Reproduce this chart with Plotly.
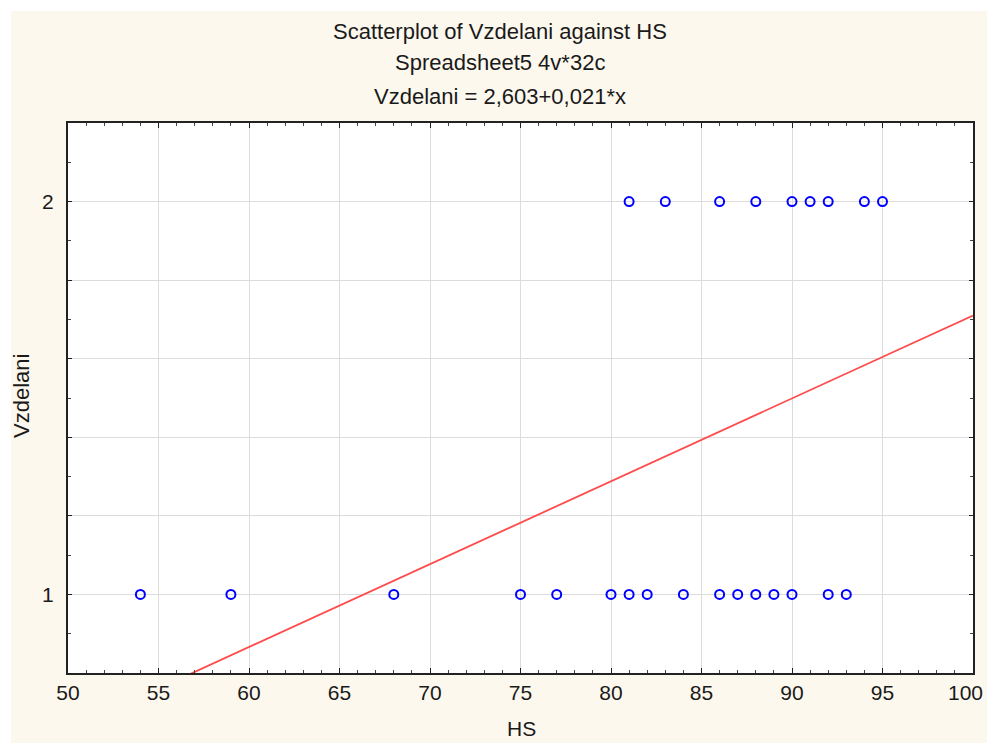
import plotly.graph_objects as go

# Data
hs_level2 = [81, 83, 86, 88, 90, 91, 92, 94, 95]
vz_level2 = [2] * len(hs_level2)
hs_level1 = [54, 59, 68, 75, 77, 80, 81, 82, 84, 86, 87, 88, 89, 90, 92, 93]
vz_level1 = [1] * len(hs_level1)

hs_all = hs_level1 + hs_level2
vz_all = vz_level1 + vz_level2

# Regression line as drawn
line_intercept = -0.40
line_slope = 0.0211
line_x = [50, 100]
line_y = [line_intercept + line_slope * x for x in line_x]

title_lines = ["Scatterplot of Vzdelani against HS", "Spreadsheet5 4v*32c", "Vzdelani = 2,603+0,021*x"]

x_range = [50, 100]
y_range = [0.8, 2.2]
y_grid_vals = [0.8, 1.0, 1.2, 1.4, 1.6, 1.8, 2.0, 2.2]
y_grid_text = ["", "1", "", "", "", "", "2", ""]

FONT = "Liberation Sans, Arial, sans-serif"
TXT = "#1a1a1a"

fig = go.Figure()
fig.add_trace(go.Scatter(
    x=line_x, y=line_y, mode="lines",
    line=dict(color="#ff4a4a", width=1.8), hoverinfo="skip", showlegend=False,
))
fig.add_trace(go.Scatter(
    x=hs_all, y=vz_all, mode="markers",
    marker=dict(symbol="circle-open", size=9, color="#0000ff", line=dict(width=2, color="#0000ff")),
    showlegend=False,
))

OFF = 8  # page body margin
W, H = 995 - 2 * OFF, 743 - OFF
L, T, B = 68 - OFF, 123 - OFF, 70
R = W - L - 905
pw, ph = W - L - R, H - T - B

def px_x(p):  # page pixel -> paper x
    return (p - OFF - L) / pw

def px_y(p):  # page pixel -> paper y
    return (H - B - (p - OFF)) / ph

shapes = [
    dict(type="rect", xref="paper", yref="paper", layer="below",
         x0=px_x(0), x1=px_x(1000), y0=px_y(11), y1=px_y(0),
         fillcolor="white", line=dict(width=0)),
    dict(type="rect", xref="paper", yref="paper", layer="below",
         x0=px_x(0), x1=px_x(11), y0=px_y(750), y1=px_y(0),
         fillcolor="white", line=dict(width=0)),
]

annotations = []
for t, py in zip(title_lines, [31, 62, 96]):
    annotations.append(dict(text=t, xref="paper", yref="paper", x=px_x(500),
                            y=px_y(py), showarrow=False, xanchor="center", yanchor="middle",
                            font=dict(family=FONT, size=22, color=TXT)))
annotations.append(dict(text="HS", xref="paper", yref="paper", x=px_x(521), y=px_y(728),
                        showarrow=False, xanchor="center", yanchor="middle",
                        font=dict(family=FONT, size=21, color=TXT)))
annotations.append(dict(text="Vzdelani", xref="paper", yref="paper", x=px_x(21), y=px_y(396),
                        showarrow=False, xanchor="center", yanchor="middle", textangle=-90,
                        font=dict(family=FONT, size=22, color=TXT)))
# last x tick label (plotly hides it because it reaches the page edge)
annotations.append(dict(text=str(x_range[1]), xref="x", yref="paper", x=x_range[1], y=px_y(692),
                        showarrow=False, xanchor="right", yanchor="middle", xshift=12,
                        font=dict(family=FONT, size=21, color=TXT)))

fig.update_layout(
    width=W, height=H,
    margin=dict(l=L, r=R, t=T, b=B),
    paper_bgcolor="#fdf8ee",
    plot_bgcolor="white",
    font=dict(family=FONT, size=21, color=TXT),
    shapes=shapes,
    annotations=annotations,
    xaxis=dict(
        range=x_range, dtick=5, tick0=50,
        showgrid=True, gridcolor="#dcdcdc", gridwidth=1,
        showline=True, linecolor="#222", linewidth=2, mirror="allticks",
        ticks="inside", ticklen=5, tickcolor="#222", tickwidth=1,
        minor=dict(dtick=1, ticks="inside", ticklen=3, tickcolor="#444", showgrid=False),
        zeroline=False,
        tickfont=dict(family=FONT, size=21, color=TXT),
    ),
    yaxis=dict(
        range=y_range, tickmode="array", tickvals=y_grid_vals, ticktext=y_grid_text,
        showgrid=True, gridcolor="#dcdcdc", gridwidth=1,
        showline=True, linecolor="#222", linewidth=2, mirror="allticks",
        ticks="inside", ticklen=4, tickcolor="#222", tickwidth=1,
        minor=dict(tickvals=[0.9, 1.1, 1.3, 1.5, 1.7, 1.9, 2.1], ticks="inside", ticklen=3, tickcolor="#444", showgrid=False),
        zeroline=False,
        ticklabelstandoff=8,
        tickfont=dict(family=FONT, size=21, color=TXT),
    ),
)

fig.write_html("out.html")
